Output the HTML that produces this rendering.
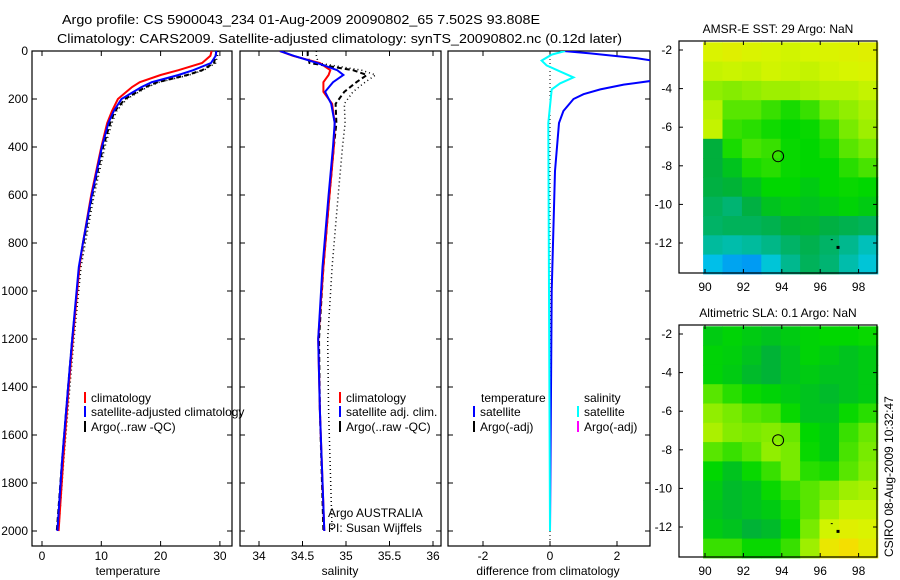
<!DOCTYPE html>
<html><head><meta charset="utf-8"><style>
body{margin:0;background:#fff;}
svg{display:block;font-family:"Liberation Sans",sans-serif;}
text{font-size:12px;fill:#000;}
</style></head><body>
<svg id="fig" width="900" height="580" viewBox="0 0 900 580" xmlns="http://www.w3.org/2000/svg">
<defs>
<clipPath id="c1"><rect x="32" y="51" width="200" height="495"/></clipPath>
<clipPath id="c2"><rect x="240" y="51" width="201" height="495"/></clipPath>
<clipPath id="c3"><rect x="448" y="51" width="202" height="495"/></clipPath>
</defs>
<text x="62" y="24" textLength="478" lengthAdjust="spacingAndGlyphs" style="font-size:13px">Argo profile: CS 5900043_234 01-Aug-2009 20090802_65 7.502S 93.808E</text>
<text x="57" y="43" textLength="565" lengthAdjust="spacingAndGlyphs" style="font-size:13px">Climatology: CARS2009. Satellite-adjusted climatology: synTS_20090802.nc (0.12d later)</text>
<g id="g1"></g>
<g id="g2"></g>
<g id="g3"></g>
<g id="m1"></g>
<g id="m2"></g>
<text transform="translate(893,557) rotate(-90)" style="font-size:12px">CSIRO 08-Aug-2009 10:32:47</text>
</svg>
<script>
// ---- data ----
const depthTemp = [0,20,50,80,100,130,150,200,250,300,400,600,800,900,1200,1400,1700,2000];
const tempClim = [28.6,28.4,27,23,20,16.5,15.2,12.8,11.8,11,10,8.3,6.9,6.3,5.2,4.5,3.6,2.8];
const tempSat  = [29.4,29.3,28.5,25.5,23,18.5,16.8,13.4,12.1,11.2,10.1,8.4,6.9,6.2,5.1,4.4,3.4,2.6];
const tempArgo = [29.4,29.3,29,27,24.5,19.5,17.5,14,12.3,11.5,10.3,8.5,7.0,6.3,5.1,4.4,3.4,2.5];
const depthSal = [0,20,50,80,100,130,170,220,300,400,600,900,1200,1500,2000];
const salClim = [34.24,34.39,34.7,34.82,34.8,34.74,34.74,34.84,34.87,34.86,34.81,34.74,34.68,34.7,34.75];
const salSat  = [34.24,34.4,34.67,34.9,34.97,34.85,34.76,34.83,34.87,34.85,34.8,34.73,34.68,34.7,34.75];
const salArgo = [34.56,34.56,34.58,35.08,35.24,35.12,34.98,34.88,34.89,34.86,34.81,34.74,34.69,34.7,34.74];
const depthDiff = [0,10,30,50,100,125,140,160,180,200,250,300,500,1000,2000];
const diffTemp = [0.4,1.2,2.6,3.5,3.5,3.0,2.2,1.5,1.0,0.7,0.4,0.27,0.15,0.05,0];
const depthDiffS = [0,15,40,60,85,110,135,160,300,1000,2000];
const diffSal = [0.45,0.05,-0.25,-0.1,0.3,0.7,0.3,0.05,-0.05,-0.03,0];
const depthTicks = [0,200,400,600,800,1000,1200,1400,1600,1800,2000];
const tempTicks = [0,10,20,30];
const salTicks = [34,34.5,35,35.5,36];
const diffTicks = [-2,0,2];
const lonTicks = [90,92,94,96,98];
const latTicks = [-2,-4,-6,-8,-10,-12];
const sstGrid = [
[.86,.88,.86,.85,.84,.85,.86,.87,.88],
[.82,.83,.82,.84,.83,.82,.84,.85,.86],
[.74,.72,.74,.76,.76,.78,.80,.80,.82],
[.80,.66,.66,.62,.58,.62,.70,.74,.78],
[.82,.62,.60,.57,.55,.56,.62,.70,.76],
[.45,.58,.64,.62,.56,.55,.58,.66,.70],
[.45,.50,.58,.60,.56,.55,.55,.60,.64],
[.44,.46,.50,.55,.55,.52,.55,.56,.55],
[.40,.36,.44,.50,.52,.50,.52,.54,.52],
[.38,.40,.40,.42,.46,.47,.44,.42,.40],
[.30,.28,.30,.33,.38,.42,.38,.32,.26],
[.18,.12,.10,.22,.32,.40,.36,.28,.22]];
const slaGrid = [
[.52,.54,.52,.50,.52,.54,.55,.55,.56],
[.54,.53,.50,.46,.50,.54,.52,.50,.52],
[.54,.52,.48,.46,.50,.52,.50,.50,.52],
[.66,.60,.56,.54,.52,.50,.48,.50,.52],
[.74,.70,.66,.64,.56,.50,.50,.56,.60],
[.78,.72,.70,.72,.68,.55,.52,.62,.68],
[.66,.62,.66,.74,.70,.56,.52,.64,.70],
[.55,.50,.56,.62,.70,.60,.58,.66,.72],
[.52,.48,.50,.56,.62,.66,.70,.76,.78],
[.50,.48,.50,.52,.58,.66,.76,.82,.82],
[.52,.50,.46,.48,.56,.70,.84,.88,.86],
[.62,.62,.56,.56,.62,.76,.92,.96,.90]];

const NS='http://www.w3.org/2000/svg';
function mk(parent,tag,attrs,txt){const e=document.createElementNS(NS,tag);for(const k in attrs)e.setAttribute(k,attrs[k]);if(txt!==undefined)e.textContent=txt;parent.appendChild(e);return e;}
const Y=d=>51+d*0.24;

function panel(g,x0,x1,xs,ticks,label,labelX,showY){
  const b=mk(g,'rect',{x:x0,y:51,width:x1-x0,height:495,fill:'none',stroke:'#000','stroke-width':1.2});
  
  
  ticks.forEach(t=>{const x=xs(t);
    mk(g,'line',{x1:x,x2:x,y1:546,y2:541,stroke:'#000'});
    mk(g,'line',{x1:x,x2:x,y1:51,y2:56,stroke:'#000'});
    const tl=mk(g,'text',{x:x,y:560,'text-anchor':'middle'},String(t));
    
    
  });
  const lb=mk(g,'text',{x:labelX,y:575,'text-anchor':'middle'},label);
  
  
  depthTicks.forEach(d=>{const y=Y(d);
    mk(g,'line',{x1:x0,x2:x0+5,y1:y,y2:y,stroke:'#000'});
    mk(g,'line',{x1:x1,x2:x1-5,y1:y,y2:y,stroke:'#000'});
    if(showY){const tl=mk(g,'text',{x:x0-4,y:y+4,'text-anchor':'end'},String(d));
      
      }
  });
}
function line(g,xs,vals,deps,color,w,dash,clip,name){
  const pts=vals.map((v,i)=>xs(v).toFixed(1)+','+Y(deps[i]).toFixed(1)).join(' ');
  const p=mk(g,'polyline',{points:pts,fill:'none',stroke:color,'stroke-width':w,'clip-path':'url(#'+clip+')'});
  if(dash)p.setAttribute('stroke-dasharray',dash);
  
  
}
function legend(g,x,y,color,txt){
  mk(g,'rect',{x:x,y:y-10,width:2,height:11,fill:color});
  const t=mk(g,'text',{x:x+7,y:y},txt);
  
  
}

// Panel 1
const g1=document.getElementById('g1');
const xT=t=>42+t*5.93;
panel(g1,32,232,xT,tempTicks,'temperature',128,true);
line(g1,xT,tempArgo.map(v=>v+0.3),depthTemp,'#000',1.5,'1,3','c1','argo-temperature-dotted');
line(g1,xT,tempArgo,depthTemp,'#000',2,'5,3','c1','argo-temperature');
line(g1,xT,tempClim,depthTemp,'#f00',2,null,'c1','climatology-temperature');
line(g1,xT,tempSat,depthTemp,'#00f',2,null,'c1','satellite-temperature');
legend(g1,84,402,'#f00','climatology');
legend(g1,84,416,'#00f','satellite-adjusted climatology');
legend(g1,84,431,'#000','Argo(..raw -QC)');

// Panel 2
const g2=document.getElementById('g2');
const xS=s=>259+(s-34)*87;
panel(g2,240,441,xS,salTicks,'salinity',340,false);
line(g2,xS,salArgo.map(v=>v+0.1),depthSal,'#000',1.5,'1,3','c2','argo-salinity-dotted');
line(g2,xS,salArgo,depthSal,'#000',2,'5,3','c2','argo-salinity');
line(g2,xS,salClim,depthSal,'#f00',2,null,'c2','climatology-salinity');
line(g2,xS,salSat,depthSal,'#00f',2,null,'c2','satellite-salinity');
legend(g2,339,402,'#f00','climatology');
legend(g2,339,416,'#00f','satellite adj. clim.');
legend(g2,339,431,'#000','Argo(..raw -QC)');
mk(g2,'text',{x:328,y:517},'Argo AUSTRALIA');
mk(g2,'text',{x:328,y:532},'PI: Susan Wijffels');

// Panel 3
const g3=document.getElementById('g3');
const xD=d=>550+d*33.5;
panel(g3,448,650,xD,diffTicks,'difference from climatology',548,false);
mk(g3,'line',{x1:xD(0),x2:xD(0),y1:51,y2:546,stroke:'#000','stroke-dasharray':'1,3'});
line(g3,xD,diffTemp,depthDiff,'#00f',2,null,'c3','temperature-difference');
line(g3,xD,diffSal,depthDiffS,'#0ff',2,null,'c3','salinity-difference');
mk(g3,'text',{x:481,y:402},'temperature');
mk(g3,'text',{x:584,y:402},'salinity');
legend(g3,473,416,'#00f','satellite');
legend(g3,473,431,'#000','Argo(-adj)');
legend(g3,577,416,'#0ff','satellite');
legend(g3,577,431,'#f0f','Argo(-adj)');

// Maps
const stops=[[0,[0,110,255]],[.2,[0,200,230]],[.35,[0,180,120]],[.45,[0,175,60]],[.55,[0,215,0]],[.7,[120,235,0]],[.85,[215,245,0]],[1,[255,215,0]]];
function col(v){for(let i=1;i<stops.length;i++){if(v<=stops[i][0]){const a=stops[i-1],b=stops[i];const f=(v-a[0])/(b[0]-a[0]);return 'rgb('+a[1].map((c,k)=>Math.round(c+(b[1][k]-c)*f)).join(',')+')';}}return 'rgb(255,215,0)';}
function map(id,top,title,grid){
  const g=document.getElementById(id);
  const lx=l=>705+(l-90)*19.2;
  const ly=l=>top+9+(-2-l)*19.3;
  const t=mk(g,'text',{x:778,y:top-8,'text-anchor':'middle'},title);
  
  
  grid.forEach((row,r)=>row.forEach((v,c)=>{
    const x=lx(89.9+c*1.011),y=ly(-1.6-r);
    const cell=mk(g,'rect',{x:x.toFixed(1),y:y.toFixed(1),width:(19.2*1.011+0.5).toFixed(1),height:19.8,fill:col(v)});
    
    
  }));
  const bx=mk(g,'rect',{x:679,y:top,width:198,height:232,fill:'none',stroke:'#000','stroke-width':1.2});
  
  
  lonTicks.forEach(l=>{const x=lx(l);
    mk(g,'line',{x1:x,x2:x,y1:top+232,y2:top+228,stroke:'#000'});
    mk(g,'line',{x1:x,x2:x,y1:top,y2:top+4,stroke:'#000'});
    mk(g,'text',{x:x,y:top+250,'text-anchor':'middle'},String(l));});
  latTicks.forEach(l=>{const y=ly(l);
    mk(g,'line',{x1:679,x2:683,y1:y,y2:y,stroke:'#000'});
    mk(g,'line',{x1:877,x2:873,y1:y,y2:y,stroke:'#000'});
    mk(g,'text',{x:672,y:y+4,'text-anchor':'end'},String(l));});
  const c=mk(g,'circle',{cx:lx(93.808),cy:ly(-7.502),r:5.5,fill:'none',stroke:'#000'});
  
  
  mk(g,'rect',{x:lx(96.85),y:ly(-12.15),width:3,height:3,fill:'#000'});
  mk(g,'rect',{x:lx(96.55),y:ly(-11.8),width:2,height:1,fill:'#000'});
}
map('m1',41,'AMSR-E SST: 29 Argo: NaN',sstGrid);
map('m2',325,'Altimetric SLA: 0.1 Argo: NaN',slaGrid);
</script>
</body></html>
